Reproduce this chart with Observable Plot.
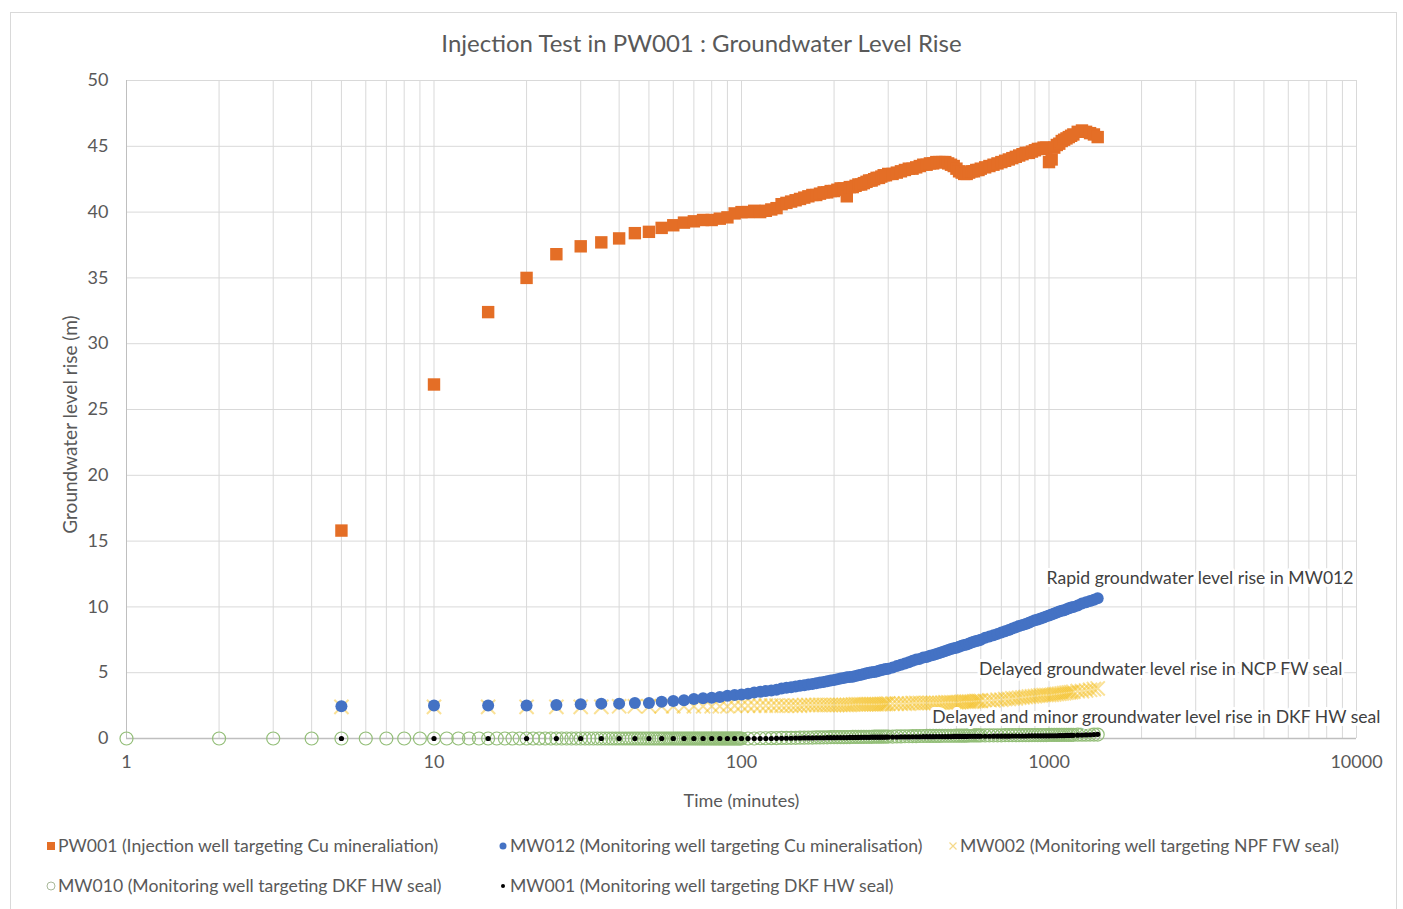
<!DOCTYPE html>
<html><head><meta charset="utf-8">
<script src="https://cdn.jsdelivr.net/npm/d3@7"></script>
<script src="https://cdn.jsdelivr.net/npm/@observablehq/plot@0.6"></script>
<style>
html,body{margin:0;padding:0;background:#fff;overflow:hidden;}
body{width:1403px;height:909px;position:relative;font-family:Lato,"Liberation Sans",sans-serif;color:#595959;}
#frame{position:absolute;left:10px;top:12px;width:1387px;height:940px;border:1px solid #d9d9d9;box-sizing:border-box;}
#title{position:absolute;left:0;width:1403px;top:30px;line-height:26px;text-align:center;font-size:24px;color:#595959;}
#chart{position:absolute;left:0;top:65px;}
.leg{position:absolute;font-size:17.6px;white-space:nowrap;line-height:20px;color:#595959;display:flex;align-items:center;}
.leg svg{margin-right:2px;}
</style></head><body>
<div id="frame"></div>
<div id="title">Injection Test in PW001 : Groundwater Level Rise</div>
<div id="chart"></div>
<div id="legend"></div>
<script>
// ---------- DATA ----------
const seriesNames = [
  "PW001 (Injection well targeting Cu mineraliation)",
  "MW012 (Monitoring well targeting Cu mineralisation)",
  "MW002 (Monitoring well targeting NPF FW seal)",
  "MW010 (Monitoring well targeting DKF HW seal)",
  "MW001 (Monitoring well targeting DKF HW seal)"
];
const xTicks = [1, 10, 100, 1000, 10000];
const yTicks = [0, 5, 10, 15, 20, 25, 30, 35, 40, 45, 50];

// Time (minutes) of readings
const timeMain = [
  5,10,15,20,25,30,35,40,45,50,55,60,65,70,75,80,85,90,95,100,
  105,110,115,120,125,130,135,140,145,150,155,160,165,170,175,180,185,190,195,200,
  205,210,215,220,225,230,235,240,245,250,255,260,265,270,275,280,285,290,295,300,
  310,320,330,340,350,360,370,380,390,400,410,420,430,440,450,460,470,480,490,500,
  510,520,530,540,550,560,570,580,590,600,
  620,640,660,680,700,720,740,760,780,800,820,840,860,880,900,920,940,960,980,1000,
  1020,1040,1060,1080,1100,1120,1140,1160,1180,1200,
  1240,1280,1320,1360,1400,1440
];
const pw001 = [
  15.8,26.9,32.4,35.0,36.8,37.4,37.7,38.0,38.4,38.5,38.8,39.0,39.2,39.3,39.4,39.4,39.5,39.6,39.9,40.0,
  40.0,40.1,40.0,40.1,40.2,40.3,40.6,40.7,40.8,40.9,41.0,41.1,41.2,41.3,41.3,41.4,41.5,41.5,41.6,41.6,
  41.7,41.8,41.8,41.2,41.9,41.9,42.0,42.1,42.1,42.2,42.3,42.4,42.4,42.5,42.6,42.6,42.7,42.8,42.8,42.9,
  42.9,43.0,43.1,43.2,43.3,43.3,43.4,43.5,43.6,43.6,43.7,43.7,43.8,43.8,43.8,43.8,43.7,43.6,43.5,43.3,
  43.1,43.0,42.9,42.9,43.0,43.1,43.1,43.2,43.2,43.3,
  43.4,43.5,43.6,43.7,43.8,43.9,44.0,44.1,44.2,44.3,44.4,44.5,44.5,44.6,44.7,44.8,44.8,44.9,44.9,43.8,
  44.0,44.9,45.1,45.2,45.4,45.5,45.6,45.7,45.8,45.9,
  46.1,46.2,46.1,46.0,45.9,45.7
];
const mw012 = [
  2.45,2.5,2.5,2.5,2.55,2.6,2.65,2.65,2.7,2.7,2.8,2.85,2.9,3.0,3.05,3.1,3.15,3.25,3.3,3.35,
  3.4,3.5,3.55,3.6,3.65,3.7,3.8,3.85,3.9,3.95,4.0,4.05,4.1,4.15,4.2,4.25,4.3,4.35,4.4,4.45,
  4.5,4.55,4.6,4.65,4.68,4.7,4.75,4.8,4.85,4.9,4.95,5.0,5.03,5.05,5.1,5.15,5.2,5.25,5.28,5.3,
  5.4,5.5,5.6,5.7,5.8,5.9,6.0,6.05,6.15,6.2,6.28,6.35,6.42,6.5,6.58,6.65,6.72,6.8,6.85,6.9,
  6.98,7.05,7.1,7.15,7.22,7.3,7.35,7.4,7.45,7.5,
  7.65,7.75,7.85,7.95,8.05,8.15,8.25,8.35,8.45,8.55,8.62,8.7,8.8,8.9,8.98,9.05,9.12,9.2,9.28,9.35,
  9.42,9.5,9.58,9.65,9.7,9.75,9.82,9.9,9.95,10.0,
  10.1,10.25,10.35,10.45,10.55,10.65
];
const mw002 = [
  2.4,2.4,2.4,2.4,2.4,2.4,2.4,2.45,2.45,2.45,2.45,2.45,2.45,2.45,2.45,2.45,2.45,2.45,2.5,2.5,
  2.5,2.5,2.5,2.5,2.5,2.5,2.5,2.5,2.5,2.5,2.5,2.55,2.55,2.55,2.55,2.55,2.55,2.55,2.55,2.55,
  2.55,2.55,2.55,2.55,2.55,2.58,2.6,2.6,2.6,2.6,2.6,2.6,2.6,2.6,2.6,2.6,2.62,2.62,2.63,2.65,
  2.65,2.65,2.65,2.65,2.65,2.7,2.7,2.7,2.7,2.7,2.7,2.7,2.7,2.7,2.72,2.75,2.75,2.75,2.75,2.75,
  2.75,2.78,2.8,2.8,2.8,2.8,2.82,2.85,2.85,2.85,
  2.85,2.9,2.9,2.95,2.95,3.0,3.0,3.05,3.05,3.1,3.12,3.15,3.18,3.2,3.22,3.25,3.28,3.3,3.3,3.3,
  3.32,3.35,3.38,3.4,3.42,3.45,3.48,3.5,3.52,3.55,
  3.6,3.6,3.65,3.7,3.75,3.8
];
const mw010 = [
  0,0,0,0,0,0,0,0,0,0,0,0,0,0,0,0,0,0,0,0,
  0,0,0.02,0.02,0.03,0.03,0.04,0.04,0.05,0.05,0.06,0.06,0.07,0.07,0.08,0.08,0.09,0.09,0.1,0.1,
  0.1,0.1,0.1,0.11,0.11,0.12,0.12,0.12,0.12,0.13,0.13,0.13,0.13,0.14,0.14,0.14,0.14,0.15,0.15,0.15,
  0.15,0.16,0.16,0.17,0.17,0.18,0.18,0.19,0.19,0.2,0.2,0.2,0.2,0.2,0.21,0.21,0.21,0.21,0.21,0.22,
  0.22,0.22,0.22,0.22,0.23,0.23,0.23,0.23,0.23,0.23,
  0.23,0.24,0.24,0.24,0.24,0.25,0.25,0.25,0.25,0.25,0.25,0.25,0.25,0.26,0.26,0.26,0.26,0.26,0.26,0.27,
  0.27,0.27,0.27,0.27,0.28,0.28,0.28,0.28,0.28,0.28,
  0.29,0.29,0.29,0.3,0.3,0.3
];
const mw001 = [
  0,0,0,0,0,0,0,0,0,0,0,0,0,0,0,0,0,0,0,0,
  0,0,0,0,0,0.01,0.01,0.02,0.02,0.03,0.03,0.04,0.04,0.04,0.05,0.05,0.05,0.06,0.06,0.06,
  0.07,0.07,0.07,0.07,0.08,0.08,0.08,0.08,0.09,0.09,0.09,0.09,0.1,0.1,0.1,0.1,0.1,0.1,0.11,0.11,
  0.11,0.11,0.12,0.12,0.12,0.13,0.13,0.13,0.14,0.14,0.14,0.14,0.15,0.15,0.15,0.15,0.15,0.15,0.16,0.16,
  0.16,0.16,0.16,0.16,0.17,0.17,0.17,0.17,0.17,0.17,
  0.17,0.17,0.18,0.18,0.18,0.18,0.18,0.19,0.19,0.19,0.19,0.19,0.2,0.2,0.2,0.2,0.2,0.2,0.2,0.2,
  0.21,0.21,0.21,0.22,0.22,0.22,0.23,0.23,0.24,0.24,
  0.25,0.26,0.27,0.28,0.3,0.32
];
// MW010 was also logged every minute early in the test
const mw010EarlyTime = [
  1,2,3,4,6,7,8,9,11,12,13,14,16,17,18,19,21,22,23,24,
  26,27,28,29,31,32,33,34,36,37,38,39,41,42,43,44,46,47,48,49,
  51,52,53,54,56,57,58,59,61,62,63,64,66,67,68,69,71,72,73,74,
  76,77,78,79,81,82,83,84,86,87,88,89,91,92,93,94,96,97,98,99
];
const mw010EarlyValue = [
  0,0,0,0,0,0,0,0,0,0,0,0,0,0,0,0,0,0,0,0,
  0,0,0,0,0,0,0,0,0,0,0,0,0,0,0,0,0,0,0,0,
  0,0,0,0,0,0,0,0,0,0,0,0,0,0,0,0,0,0,0,0,
  0,0,0,0,0,0,0,0,0,0,0,0,0,0,0,0,0,0,0,0
];
const annotationText = [
  "Rapid groundwater level rise in MW012",
  "Delayed groundwater level rise in NCP FW seal",
  "Delayed and minor groundwater level rise in DKF HW seal"
];
const annotationTime = [9780, 9000, 11970];
const annotationLevel = [12.15, 5.25, 1.6];

// ---------- BUILD ----------
const toRows = (ts, vs) => ts.map((t, i) => ({t, v: vs[i]}));
const pwRows = toRows(timeMain, pw001);
const m12Rows = toRows(timeMain, mw012);
const m02Rows = toRows(timeMain, mw002);
const m10Rows = toRows(mw010EarlyTime, mw010EarlyValue).concat(toRows(timeMain, mw010));
const m01Rows = toRows(timeMain, mw001);
const annRows = annotationText.map((s, i) => ({s, t: annotationTime[i], v: annotationLevel[i]}));

const colors = ["#E46E26", "#4472C4", "#F2B705", "#93BE78", "#000000"];
const xGrid = d3.scaleLog().domain([1, 10000]).ticks();

const chart = Plot.plot({
  width: 1403, height: 760,
  marginLeft: 126, marginRight: 47, marginTop: 15, marginBottom: 87,
  style: {fontFamily: "Lato, 'Liberation Sans', sans-serif", fontSize: "18px", color: "#595959", background: "transparent", overflow: "visible"},
  x: {type: "log", domain: [1, 10000]},
  y: {domain: [0, 50]},
  marks: [
    Plot.gridX(xGrid, {stroke: "#d9d9d9", strokeOpacity: 1}),
    Plot.gridY(yTicks, {stroke: "#d9d9d9", strokeOpacity: 1}),
    Plot.ruleX([1], {stroke: "#bfbfbf"}),
    Plot.ruleY([0], {stroke: "#bfbfbf", strokeWidth: 1.5}),
    Plot.axisX(xTicks, {tickSize: 0, tickPadding: 17, tickFormat: d => String(d), label: null}),
    Plot.axisY(yTicks, {tickSize: 0, tickPadding: 18, label: null}),
    Plot.text(["Time (minutes)"], {frameAnchor: "bottom", dy: 68, fontSize: 18, fill: "#595959"}),
    Plot.text(["Groundwater level rise (m)"], {frameAnchor: "left", textAnchor: "middle", dx: -56, dy: 15, rotate: -90, fontSize: 19, fill: "#595959"}),
    Plot.dot(pwRows, {x: "t", y: "v", symbol: "square", r: 7, fill: colors[0]}),
    Plot.dot(m02Rows, {x: "t", y: "v", symbol: "times", r: 6.5, stroke: colors[2], strokeWidth: 2, strokeOpacity: 0.42}),
    Plot.dot(m12Rows, {x: "t", y: "v", r: 6, fill: colors[1]}),
    Plot.dot(m10Rows, {x: "t", y: "v", r: 6.5, fill: "none", stroke: colors[3], strokeWidth: 1.2}),
    Plot.dot(m01Rows, {x: "t", y: "v", r: 2.6, fill: colors[4]}),
    Plot.text(annRows, {x: "t", y: "v", text: "s", textAnchor: "end", fontSize: 17.6, fill: "#404040", stroke: "white", strokeWidth: 6})
  ]
});
document.getElementById("chart").appendChild(chart);

// ---------- LEGEND ----------
const icons = [
  '<svg width="10" height="10"><rect x="1" y="1" width="8" height="8" fill="#E46E26"/></svg>',
  '<svg width="10" height="10"><circle cx="5" cy="5" r="3.5" fill="#4472C4"/></svg>',
  '<svg width="10" height="10"><path d="M1.5,1.5L8.5,8.5M8.5,1.5L1.5,8.5" stroke="#F5D98A" stroke-width="1.2"/></svg>',
  '<svg width="10" height="10"><circle cx="5" cy="5" r="4" fill="none" stroke="#a9b99a" stroke-width="1"/></svg>',
  '<svg width="10" height="10"><circle cx="5" cy="5" r="2" fill="#000"/></svg>'
];
const legPos = [[46, 836], [498, 836], [948, 836], [46, 876], [498, 876]];
const legend = document.getElementById("legend");
seriesNames.forEach((name, i) => {
  const d = document.createElement("div");
  d.className = "leg";
  d.style.left = legPos[i][0] + "px";
  d.style.top = legPos[i][1] + "px";
  d.innerHTML = icons[i] + "<span></span>";
  d.querySelector("span").textContent = name;
  legend.appendChild(d);
});
</script>
</body></html>
